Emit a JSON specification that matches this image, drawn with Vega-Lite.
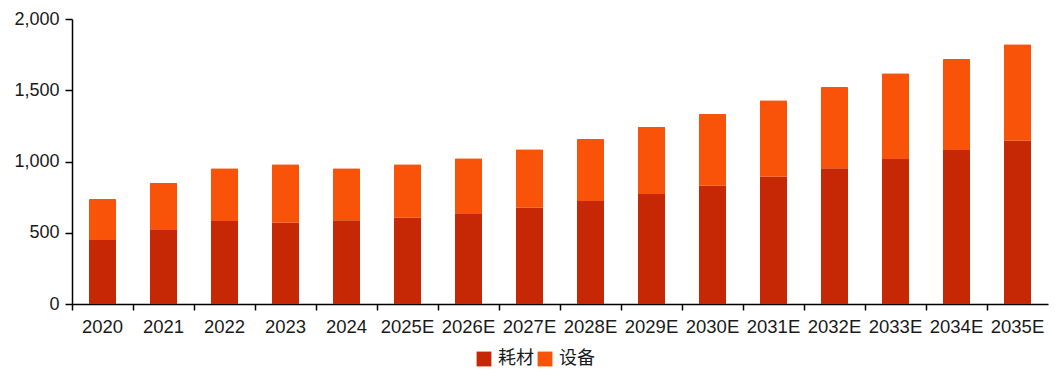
{
  "$schema": "https://vega.github.io/schema/vega-lite/v6.json",
  "width": 976,
  "height": 285,
  "autosize": "none",
  "padding": {"left": 72, "top": 19, "right": 10, "bottom": 65},
  "background": "white",
  "data": {
    "values": [
      {"year": "2020", "series": "耗材", "value": 449},
      {"year": "2020", "series": "设备", "value": 288},
      {"year": "2021", "series": "耗材", "value": 524},
      {"year": "2021", "series": "设备", "value": 327},
      {"year": "2022", "series": "耗材", "value": 582},
      {"year": "2022", "series": "设备", "value": 370},
      {"year": "2023", "series": "耗材", "value": 571},
      {"year": "2023", "series": "设备", "value": 409},
      {"year": "2024", "series": "耗材", "value": 587},
      {"year": "2024", "series": "设备", "value": 365},
      {"year": "2025E", "series": "耗材", "value": 606},
      {"year": "2025E", "series": "设备", "value": 374},
      {"year": "2026E", "series": "耗材", "value": 636},
      {"year": "2026E", "series": "设备", "value": 386},
      {"year": "2027E", "series": "耗材", "value": 676},
      {"year": "2027E", "series": "设备", "value": 410},
      {"year": "2028E", "series": "耗材", "value": 723},
      {"year": "2028E", "series": "设备", "value": 435},
      {"year": "2029E", "series": "耗材", "value": 772},
      {"year": "2029E", "series": "设备", "value": 472},
      {"year": "2030E", "series": "耗材", "value": 830},
      {"year": "2030E", "series": "设备", "value": 503},
      {"year": "2031E", "series": "耗材", "value": 893},
      {"year": "2031E", "series": "设备", "value": 536},
      {"year": "2032E", "series": "耗材", "value": 952},
      {"year": "2032E", "series": "设备", "value": 571},
      {"year": "2033E", "series": "耗材", "value": 1018},
      {"year": "2033E", "series": "设备", "value": 601},
      {"year": "2034E", "series": "耗材", "value": 1081},
      {"year": "2034E", "series": "设备", "value": 638},
      {"year": "2035E", "series": "耗材", "value": 1146},
      {"year": "2035E", "series": "设备", "value": 676}
    ]
  },
  "mark": {"type": "bar", "size": 27, "cornerRadiusTopLeft": 1, "cornerRadiusTopRight": 1},
  "encoding": {
    "x": {
      "field": "year",
      "type": "ordinal",
      "sort": null,
      "title": null,
      "scale": {"paddingInner": 0, "paddingOuter": 0},
      "axis": {
        "labelAngle": 0,
        "bandPosition": 0,
        "domainColor": "#000000",
        "domainWidth": 1.5,
        "tickColor": "#000000",
        "tickWidth": 1.5,
        "tickSize": 6,
        "labelFont": "Liberation Sans",
        "labelFontSize": 18.5,
        "labelColor": "#1a1a1a",
        "labelPadding": 7
      }
    },
    "y": {
      "field": "value",
      "type": "quantitative",
      "stack": "zero",
      "title": null,
      "scale": {"domain": [0, 2000]},
      "axis": {
        "values": [0, 500, 1000, 1500, 2000],
        "format": ",.0f",
        "grid": false,
        "domainColor": "#000000",
        "domainWidth": 1.5,
        "tickColor": "#000000",
        "tickWidth": 1.5,
        "tickSize": 7,
        "labelFont": "Liberation Sans",
        "labelFontSize": 18,
        "labelColor": "#1a1a1a",
        "labelPadding": 6
      }
    },
    "color": {
      "field": "series",
      "type": "nominal",
      "title": null,
      "scale": {"domain": ["耗材", "设备"], "range": ["#C62805", "#F9530A"]},
      "legend": {
        "orient": "none",
        "legendX": 403,
        "legendY": 331,
        "direction": "horizontal",
        "symbolType": "square",
        "symbolSize": 220,
        "symbolStrokeWidth": 0,
        "labelFont": "Noto Sans CJK SC",
        "labelFontSize": 18,
        "labelColor": "#1a1a1a",
        "columnPadding": 2,
        "labelOffset": 5
      }
    },
    "order": {"field": "series", "sort": "ascending"}
  },
  "config": {
    "view": {"stroke": null}
  }
}
